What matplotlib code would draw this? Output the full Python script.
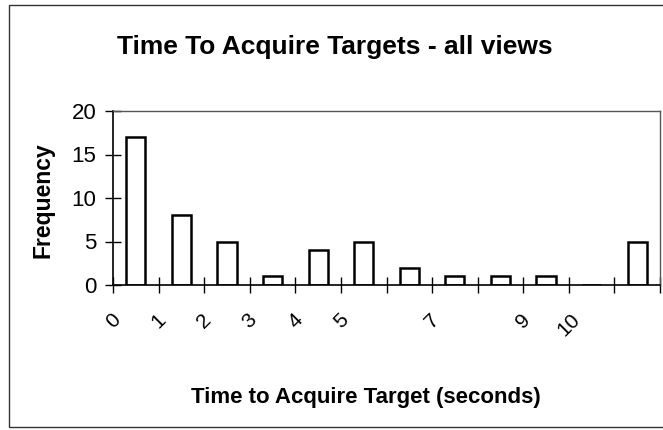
import matplotlib
matplotlib.use("Agg")
import matplotlib.pyplot as plt
from matplotlib.patches import Rectangle

# histogram bins (seconds) and counts
bin_edges = list(range(0, 13))
edge_labels = ["0", "1", "2", "3", "4", "5", "", "7", "", "9", "10", "", ""]
counts = [17, 8, 5, 1, 4, 5, 2, 1, 1, 1, 0, 5]

plt.rcParams['font.family'] = ['Liberation Sans', 'DejaVu Sans']

fig = plt.figure(figsize=(6.63, 4.30), dpi=100)
ax = fig.add_axes([113 / 663, 1 - 285 / 430, (660 - 113) / 663, (285 - 111) / 430])

centers = [e + 0.5 for e in bin_edges[:-1]]
ax.bar(centers, counts, width=0.42, color='white', edgecolor='black', linewidth=1.8)

ax.set_xlim(0, 12)
ax.set_ylim(0, 20)
ax.set_yticks([0, 5, 10, 15, 20])
ax.set_xticks(bin_edges)
ax.set_xticklabels(edge_labels, rotation=45, ha='center', va='top')
ax.tick_params(axis='both', direction='inout', length=12, width=1, labelsize=16, colors='black')
ax.tick_params(axis='x', pad=12, labelsize=15)
ax.tick_params(axis='y', pad=6)

for s in ['left', 'bottom']:
    ax.spines[s].set_linewidth(1.2)
for s in ['top', 'right']:
    ax.spines[s].set_linewidth(1.0)
    ax.spines[s].set_color('#555555')

fig.text(43 / 663, 1 - 200 / 430, "Frequency", rotation=90,
         fontsize=16.5, fontweight='bold', ha='center', va='center')
fig.text(366 / 663, 1 - 397 / 430, "Time to Acquire Target (seconds)",
         fontsize=16, fontweight='bold', ha='center', va='center')
fig.text(335 / 663, 1 - 47 / 430, "Time To Acquire Targets - all views",
         fontsize=19, fontweight='bold', ha='center', va='center')

# outer chart border
fig.patches.append(Rectangle((9 / 663, 3 / 430), 1.0, 422 / 430, transform=fig.transFigure,
                             fill=False, edgecolor='#333333', linewidth=1.0))

fig.savefig("out.png", dpi=100)
